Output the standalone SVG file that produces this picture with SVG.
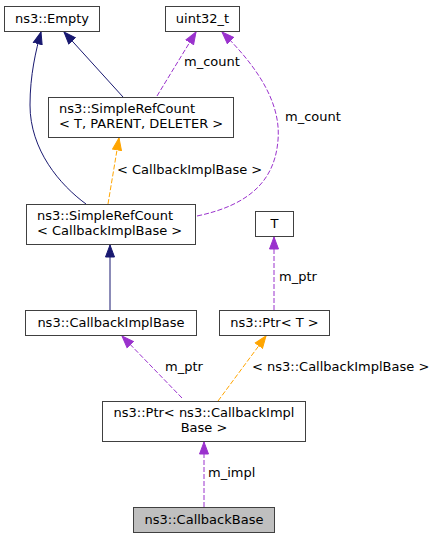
<svg xmlns="http://www.w3.org/2000/svg" width="436" height="539" viewBox="0 0 436 539">
<style>
text{font-family:"DejaVu Sans","Liberation Sans",sans-serif;font-size:13px;fill:#000}
.box{fill:#fff;stroke:#404040;stroke-width:1}
.inh{fill:none;stroke:#191970;stroke-width:1}
.use{fill:none;stroke:#9a32cd;stroke-width:1;stroke-dasharray:5,2}
.tpl{fill:none;stroke:#ffa500;stroke-width:1;stroke-dasharray:5,2}
</style>
<defs>
<marker id="aN" markerUnits="userSpaceOnUse" markerWidth="14" markerHeight="11" refX="12.5" refY="5" orient="auto" viewBox="0 0 14 10"><path d="M0.5,0.5 L12.5,5 L0.5,9.5 z" fill="#191970" stroke="#191970"/></marker>
<marker id="aP" markerUnits="userSpaceOnUse" markerWidth="14" markerHeight="11" refX="12.5" refY="5" orient="auto" viewBox="0 0 14 10"><path d="M0.5,0.5 L12.5,5 L0.5,9.5 z" fill="#9a32cd" stroke="#9a32cd"/></marker>
<marker id="aO" markerUnits="userSpaceOnUse" markerWidth="14" markerHeight="11" refX="12.5" refY="5" orient="auto" viewBox="0 0 14 10"><path d="M0.5,0.5 L12.5,5 L0.5,9.5 z" fill="#ffa500" stroke="#ffa500"/></marker>
</defs>
<g id="edges">
<path class="inh" d="M123,97 L64,32" marker-end="url(#aN)"/>
<path class="inh" d="M86,204 C60,185 30,150 30,105 C30,75 36,50 41,32" marker-end="url(#aN)"/>
<path class="use" d="M157,96 L196,32" marker-end="url(#aP)"/>
<text x="184" y="66">m_count</text>
<path class="use" d="M197,216 C250,205 275,180 278,140 C282,95 245,55 222,32" marker-end="url(#aP)"/>
<text x="285" y="121">m_count</text>
<path class="tpl" d="M108,204 L119,138" marker-end="url(#aO)"/>
<text x="117" y="174">&lt; CallbackImplBase &gt;</text>
<path class="inh" d="M110,310 L110,245" marker-end="url(#aN)"/>
<path class="use" d="M274,310 L274,237" marker-end="url(#aP)"/>
<text x="279" y="281">m_ptr</text>
<path class="use" d="M182,398 L122,336" marker-end="url(#aP)"/>
<text x="165" y="371">m_ptr</text>
<path class="tpl" d="M218,401 L266,336" marker-end="url(#aO)"/>
<text x="252" y="371">&lt; ns3::CallbackImplBase &gt;</text>
<path class="use" d="M204,507 L204,442" marker-end="url(#aP)"/>
<text x="208" y="477">m_impl</text>
</g>
<g id="n_empty"><rect class="box" x="4.5" y="6.5" width="95" height="25"/><text x="52" y="23" text-anchor="middle">ns3::Empty</text></g>
<g id="n_uint32"><rect class="box" x="165.5" y="6.5" width="74" height="25"/><text x="202.5" y="23" text-anchor="middle">uint32_t</text></g>
<g id="n_srcT"><rect class="box" x="48.5" y="97.5" width="185" height="40"/><text x="59" y="113.3">ns3::SimpleRefCount</text><text x="59" y="128.3">&lt; T, PARENT, DELETER &gt;</text></g>
<g id="n_srcCIB"><rect class="box" x="26.5" y="204.5" width="169" height="40"/><text x="37" y="220.3">ns3::SimpleRefCount</text><text x="37" y="235.3">&lt; CallbackImplBase &gt;</text></g>
<g id="n_T"><rect class="box" x="255.5" y="211.5" width="38" height="25"/><text x="274.5" y="228" text-anchor="middle">T</text></g>
<g id="n_cib"><rect class="box" x="25.5" y="310.5" width="171" height="25"/><text x="111" y="327" text-anchor="middle">ns3::CallbackImplBase</text></g>
<g id="n_ptrT"><rect class="box" x="219.5" y="310.5" width="110" height="25"/><text x="274.5" y="327" text-anchor="middle">ns3::Ptr&lt; T &gt;</text></g>
<g id="n_ptrCIB"><rect class="box" x="102.5" y="401.5" width="203" height="40"/><text x="204" y="417.3" text-anchor="middle">ns3::Ptr&lt; ns3::CallbackImpl</text><text x="204" y="432.3" text-anchor="middle">Base &gt;</text></g>
<g id="n_cb"><rect x="133.5" y="507.5" width="141" height="25" fill="#bfbfbf" stroke="#404040"/><text x="204" y="524" text-anchor="middle">ns3::CallbackBase</text></g>
</svg>
